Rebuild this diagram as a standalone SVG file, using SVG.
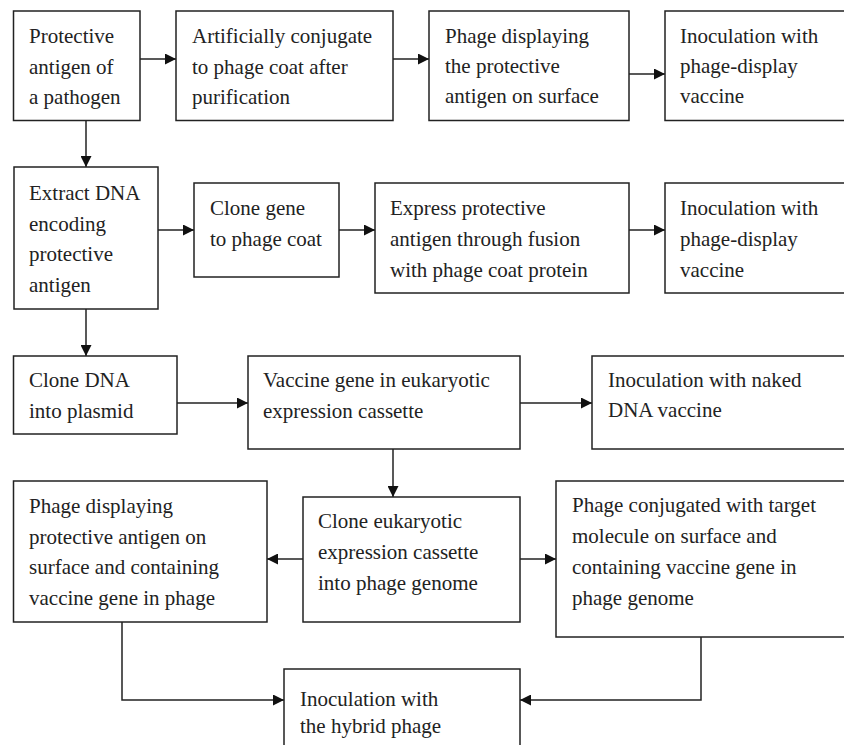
<svg xmlns="http://www.w3.org/2000/svg" width="844" height="745" viewBox="0 0 844 745">
<style>
rect{fill:#fff;stroke:#222;stroke-width:1.5}
text{font-family:"Liberation Serif","Times New Roman",serif;font-size:21px;fill:#222}
.c{fill:none;stroke:#222;stroke-width:1.5}
</style>
<defs>
<marker id="ah" markerUnits="userSpaceOnUse" markerWidth="12" markerHeight="11" refX="11" refY="5.5" orient="auto">
<path d="M0,0 L11,5.5 L0,11 z" fill="#111"/>
</marker>
</defs>
<rect width="844" height="745" style="fill:#fff;stroke:none"/>
<g id="connectors">
<path class="c" d="M140,59 H176" marker-end="url(#ah)"/>
<path class="c" d="M393,59 H429" marker-end="url(#ah)"/>
<path class="c" d="M629,74 H665" marker-end="url(#ah)"/>
<path class="c" d="M86,120 V167" marker-end="url(#ah)"/>
<path class="c" d="M158,230 H194" marker-end="url(#ah)"/>
<path class="c" d="M339,230 H375" marker-end="url(#ah)"/>
<path class="c" d="M629,230 H665" marker-end="url(#ah)"/>
<path class="c" d="M86,309 V356" marker-end="url(#ah)"/>
<path class="c" d="M177,403 H248" marker-end="url(#ah)"/>
<path class="c" d="M520,403 H592" marker-end="url(#ah)"/>
<path class="c" d="M393,449 V497" marker-end="url(#ah)"/>
<path class="c" d="M303,559 H267" marker-end="url(#ah)"/>
<path class="c" d="M520,559 H556" marker-end="url(#ah)"/>
<path class="c" d="M122,622 V700 H284" marker-end="url(#ah)"/>
<path class="c" d="M701,637 V700 H520" marker-end="url(#ah)"/>
</g>
<g id="n1"><rect x="13.5" y="11" width="126.5" height="109.5"/>
<text x="29" y="43">Protective</text><text x="29" y="74">antigen of</text><text x="29" y="104">a pathogen</text></g>
<g id="n2"><rect x="176" y="11" width="217" height="109.5"/>
<text x="192" y="43">Artificially conjugate</text><text x="192" y="74">to phage coat after</text><text x="192" y="104">purification</text></g>
<g id="n3"><rect x="429" y="11" width="200" height="109.5"/>
<text x="445" y="43">Phage displaying</text><text x="445" y="73">the protective</text><text x="445" y="103">antigen on surface</text></g>
<g id="n4"><rect x="665" y="11" width="190" height="109.5"/>
<text x="680" y="43">Inoculation with</text><text x="680" y="73">phage-display</text><text x="680" y="103">vaccine</text></g>
<g id="n5"><rect x="14" y="167" width="144" height="142"/>
<text x="29" y="200">Extract DNA</text><text x="29" y="230.5">encoding</text><text x="29" y="261">protective</text><text x="29" y="291.5">antigen</text></g>
<g id="n6"><rect x="194" y="183" width="145" height="94"/>
<text x="210" y="215">Clone gene</text><text x="210" y="246">to phage coat</text></g>
<g id="n7"><rect x="375" y="183" width="254" height="110"/>
<text x="390" y="215">Express protective</text><text x="390" y="246">antigen through fusion</text><text x="390" y="276.5">with phage coat protein</text></g>
<g id="n8"><rect x="665" y="183" width="190" height="110"/>
<text x="680" y="215">Inoculation with</text><text x="680" y="246">phage-display</text><text x="680" y="276.5">vaccine</text></g>
<g id="n9"><rect x="13.5" y="356" width="163.5" height="78"/>
<text x="29" y="387">Clone DNA</text><text x="29" y="418">into plasmid</text></g>
<g id="n10"><rect x="248" y="356" width="272" height="93"/>
<text x="263" y="387">Vaccine gene in eukaryotic</text><text x="263" y="418">expression cassette</text></g>
<g id="n11"><rect x="592" y="356" width="263" height="93"/>
<text x="608" y="387">Inoculation with naked</text><text x="608" y="417">DNA vaccine</text></g>
<g id="n12"><rect x="13.5" y="481" width="253.5" height="141"/>
<text x="29" y="513">Phage displaying</text><text x="29" y="543.5">protective antigen on</text><text x="29" y="574">surface and containing</text><text x="29" y="605">vaccine gene in phage</text></g>
<g id="n13"><rect x="303" y="497" width="217" height="125"/>
<text x="318" y="528">Clone eukaryotic</text><text x="318" y="559">expression cassette</text><text x="318" y="590">into phage genome</text></g>
<g id="n14"><rect x="556" y="481" width="299" height="156"/>
<text x="572" y="512">Phage conjugated with target</text><text x="572" y="543">molecule on surface and</text><text x="572" y="574">containing vaccine gene in</text><text x="572" y="605">phage genome</text></g>
<g id="n15"><rect x="284" y="669" width="236" height="90"/>
<text x="300" y="706">Inoculation with</text><text x="300" y="733">the hybrid phage</text></g>
</svg>
